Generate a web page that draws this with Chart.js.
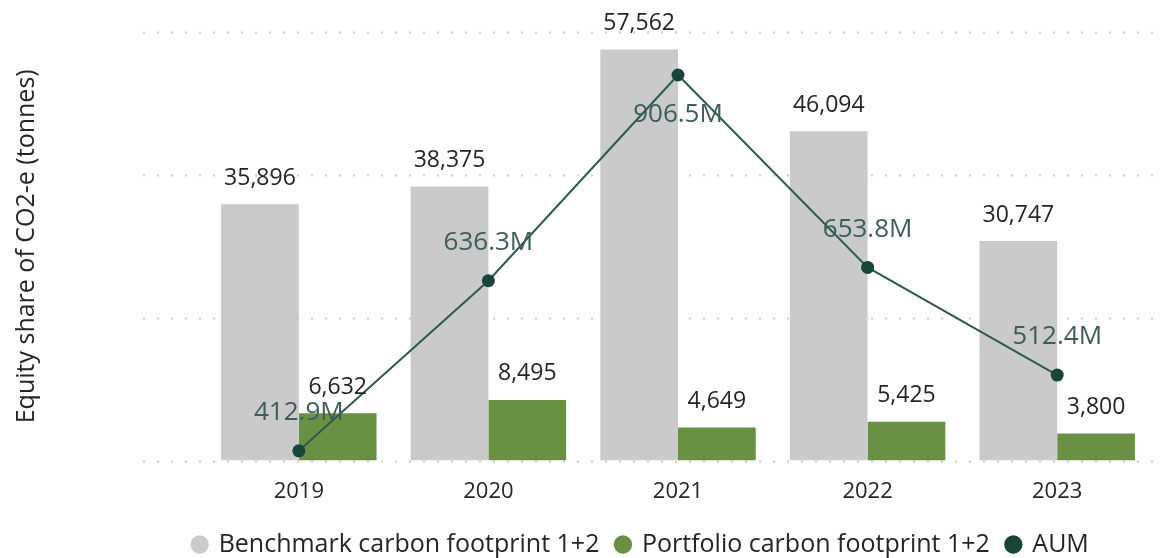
<!DOCTYPE html>
<html>
<head>
<meta charset="utf-8">
<script src="https://cdn.jsdelivr.net/npm/chart.js@4"></script>
<style>
  html, body { margin: 0; padding: 0; background: #fff; }
  #wrap { width: 1169px; height: 558px; }
</style>
</head>
<body>
<div id="wrap"><canvas id="footprintChart"></canvas></div>
<script>
// chart data
const years = ['2019', '2020', '2021', '2022', '2023'];
const benchmark = [35896, 38375, 57562, 46094, 30747];
const portfolio = [6632, 8495, 4649, 5425, 3800];
const aum = [412.9, 636.3, 906.5, 653.8, 512.4]; // millions
const yTicks = [0, 20000, 40000, 60000];

const FONT = 'Open Sans';

// dotted gridlines that run a bit past the category area, like the original
const dottedGrid = {
    id: 'dottedGrid',
    beforeDatasetsDraw(chart) {
        const { ctx, chartArea, scales } = chart;
        ctx.save();
        ctx.strokeStyle = '#c8c8c8';
        ctx.lineWidth = 2;
        ctx.setLineDash([2, 12]);
        yTicks.forEach(v => {
            const y = Math.round(scales.y.getPixelForValue(v)) + 0.5;
            ctx.beginPath();
            ctx.moveTo(chartArea.left - 61, y);
            ctx.lineTo(chartArea.right + 13, y);
            ctx.stroke();
        });
        ctx.restore();
    }
};

// legend in the original sits right of the page centre
const legendShift = {
    id: 'legendShift',
    afterLayout(chart) {
        chart.legend.left += 126;
    }
};

// value labels over bars and line points
const valueLabels = {
    id: 'valueLabels',
    afterDatasetsDraw(chart) {
        const { ctx, chartArea } = chart;
        ctx.save();
        ctx.textAlign = 'center';
        ctx.textBaseline = 'middle';
        chart.data.datasets.forEach((ds, i) => {
            const meta = chart.getDatasetMeta(i);
            meta.data.forEach((el, j) => {
                const v = ds.data[j];
                if (ds.type === 'line') {
                    ctx.font = '26px "' + FONT + '"';
                    ctx.fillStyle = '#3d5c5c';
                    const up = el.y - 38;
                    const y = up < chartArea.top + 20 ? el.y + 40 : up;
                    ctx.fillText(v.toFixed(1) + 'M', el.x, y);
                } else {
                    ctx.font = '23px "' + FONT + '"';
                    ctx.fillStyle = '#252525';
                    ctx.fillText(v.toLocaleString('en-US'), el.x, el.y - 26);
                }
            });
        });
        ctx.restore();
    }
};

document.addEventListener('DOMContentLoaded', () => {
    const ctx = document.getElementById('footprintChart').getContext('2d');

    new Chart(ctx, {
        data: {
            labels: years,
            datasets: [{
                type: 'bar',
                label: 'Benchmark carbon footprint 1+2',
                data: benchmark,
                backgroundColor: '#cacaca',
                borderWidth: 0,
                categoryPercentage: 0.82,
                barPercentage: 1,
                order: 1
            }, {
                type: 'bar',
                label: 'Portfolio carbon footprint 1+2',
                data: portfolio,
                backgroundColor: '#6a9143',
                borderWidth: 0,
                categoryPercentage: 0.82,
                barPercentage: 1,
                order: 2
            }, {
                type: 'line',
                label: 'AUM',
                data: aum,
                yAxisID: 'y2',
                borderColor: '#2f5a4f',
                backgroundColor: '#17453a',
                borderWidth: 2,
                tension: 0,
                pointRadius: 6.5,
                pointBackgroundColor: '#17453a',
                pointBorderColor: '#17453a',
                pointBorderWidth: 0,
                order: 0
            }]
        },
        options: {
            responsive: true,
            maintainAspectRatio: false,
            animation: false,
            layout: {
                padding: { left: 4, right: 17, top: 32, bottom: -9 }
            },
            plugins: {
                legend: {
                    position: 'bottom',
                    labels: {
                        usePointStyle: true,
                        pointStyle: 'circle',
                        boxWidth: 13,
                        boxHeight: 13,
                        padding: 17,
                        color: '#252525',
                        font: { family: FONT, size: 25 },
                        sort: (a, b) => a.datasetIndex - b.datasetIndex
                    }
                },
                tooltip: { enabled: false }
            },
            scales: {
                x: {
                    grid: { display: false },
                    border: { display: false },
                    ticks: {
                        color: '#252525',
                        padding: 10,
                        font: { family: FONT, size: 22 }
                    }
                },
                y: {
                    min: 0,
                    max: 60000,
                    ticks: { display: false, stepSize: 20000 },
                    grid: { display: false },
                    border: { display: false },
                    title: {
                        display: true,
                        text: 'Equity share of CO2-e (tonnes)',
                        color: '#252525',
                        font: { family: FONT, size: 25 },
                        padding: { top: 8, bottom: 154 }
                    }
                },
                y2: {
                    display: false,
                    min: 400,
                    max: 963
                }
            }
        },
        plugins: [dottedGrid, legendShift, valueLabels]
    });
});
</script>
</body>
</html>
